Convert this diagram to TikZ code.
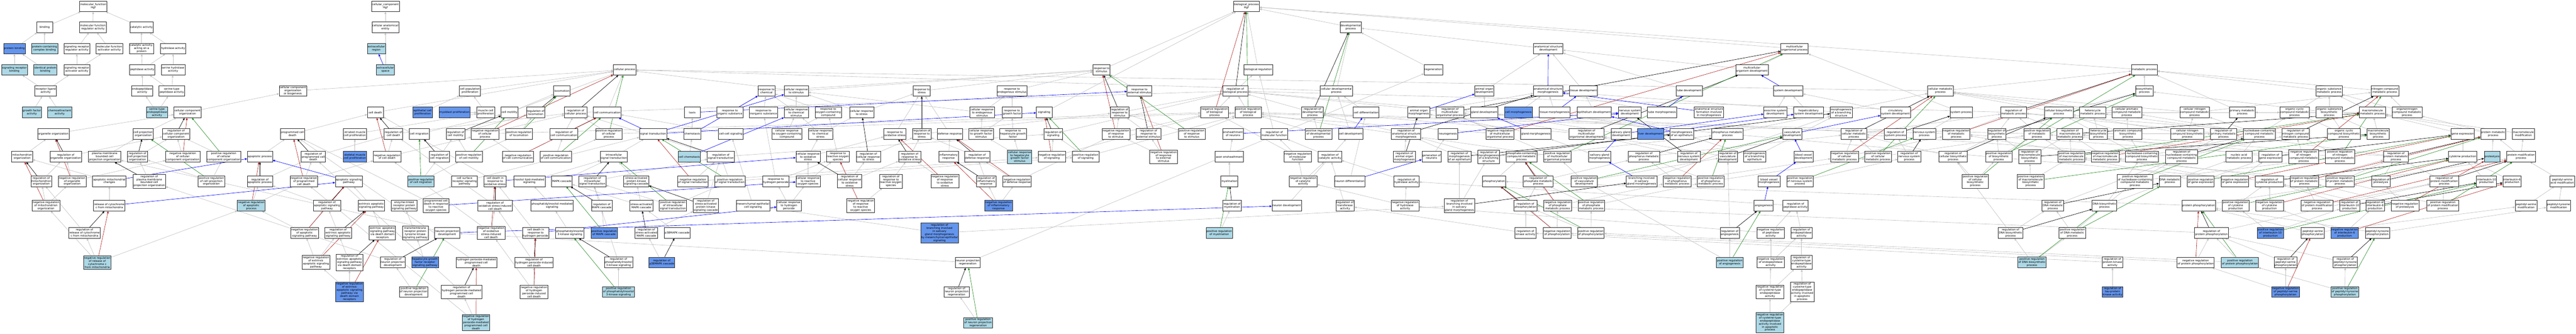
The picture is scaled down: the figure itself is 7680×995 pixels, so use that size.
\documentclass[tikz,border=0pt]{standalone}
\usepackage{fontspec}
\setmainfont{DejaVu Sans}
\usepackage{tikz}
\usetikzlibrary{arrows.meta}
\usetikzlibrary{backgrounds}
\definecolor{hitblue}{HTML}{ADD8E6}
\definecolor{queryblue}{HTML}{6495ED}
\definecolor{edgegray}{HTML}{C0C0C0}
\definecolor{negred}{HTML}{B22222}
\definecolor{posgreen}{HTML}{228B22}
\tikzstyle{term}=[draw=black!85, line width=1.4pt, fill=white, rectangle, align=center,
                  inner xsep=2.5pt, inner ysep=4pt, minimum width=67pt, minimum height=45pt,
                  font=\fontsize{11.5}{13}\selectfont]
\tikzstyle{hterm}=[term, fill=hitblue]
\tikzstyle{qterm}=[term, fill=queryblue]
\tikzstyle{link}=[line width=1.4pt, -{Triangle[length=9pt,width=8pt]}]
\tikzstyle{isa}=[link, edgegray]
\tikzstyle{reg}=[link, black]
\tikzstyle{negreg}=[link, negred]
\tikzstyle{posreg}=[link, posgreen]
\tikzstyle{partof}=[link, blue]

\begin{document}
\begin{tikzpicture}[x=0.05cm, y=-0.05cm]
        % molecular function
        \node[term]  (mf)      at (278,19)  {molecular\_function\\Hgf};
        \node[term]  (bind)    at (133,81)  {binding};
        \node[term]  (mfreg)   at (277,81)  {molecular function\\regulator activity};
        \node[term]  (cat)     at (422,81)  {catalytic activity};
        \node[qterm] (pbind)   at (43,145)  {protein binding};
        \node[hterm] (pcbind)  at (133,145) {protein-containing\\complex binding};
        \node[term]  (srra)    at (229,145) {signaling receptor\\regulator activity};
        \node[term]  (mfact)   at (326,145) {molecular function\\activator activity};
        \node[term]  (catprot) at (422,145) {catalytic activity,\\acting on a\\protein};
        \node[term]  (hydro)   at (516,145) {hydrolase activity};
        \node[hterm] (srbind)  at (43,208)  {signaling receptor\\binding};
        \node[hterm] (idbind)  at (135,208) {identical protein\\binding};
        \node[term]  (sraa)    at (229,208) {signaling receptor\\activator activity};
        \node[term]  (pept)    at (424,208) {peptidase activity};
        \node[term]  (serhyd)  at (516,208) {serine hydrolase\\activity};
        \node[term]  (rla)     at (136,271) {receptor ligand\\activity};
        \node[term]  (endopep) at (424,271) {endopeptidase\\activity};
        \node[term]  (serpep)  at (512,271) {serine-type\\peptidase activity};
        \node[hterm] (gfa)     at (95,335)  {growth factor\\activity};
        \node[hterm] (chemoa)  at (178,335) {chemoattractant\\activity};
        \node[hterm] (serendo) at (468,335) {serine-type\\endopeptidase\\activity};
        % organization
        \node[term]  (cco)      at (559,335) {cellular component\\organization};
        \node[term]  (orgorg)   at (159,399) {organelle organization};
        \node[term]  (cpo)      at (427,399) {cell projection\\organization};
        \node[term]  (rcco)     at (525,399) {regulation of\\cellular component\\organization};
        \node[term]  (mito)     at (66,467)  {mitochondrion\\organization};
        \node[term]  (rorgorg)  at (196,467) {regulation of\\organelle organization};
        \node[term]  (pmbcpo)   at (312,467) {plasma membrane\\bounded cell\\projection organization};
        \node[term]  (rcpo)     at (410,467) {regulation of\\cell projection\\organization};
        \node[term]  (nrcco)    at (545,467) {negative regulation\\of cellular\\component organization};
        \node[term]  (prcco)    at (667,467) {positive regulation\\of cellular\\component organization};
        \node[term]  (rmito)    at (123,540) {regulation of\\mitochondrion\\organization};
        \node[term]  (nrorgorg) at (215,540) {negative regulation\\of organelle\\organization};
        \node[term]  (amc)      at (326,540) {apoptotic mitochondrial\\changes};
        \node[term]  (rpmbcpo)  at (445,540) {regulation of\\plasma membrane\\bounded cell\\projection organization};
        \node[term]  (prcpo)    at (630,540) {positive regulation\\of cell projection\\organization};
        \node[term]  (nrmito)   at (137,613) {negative regulation\\of mitochondrion\\organization};
        \node[term]  (rcyt)     at (326,613) {release of cytochrome\\c from mitochondria};
        \node[term]  (rrcyt)    at (252,694) {regulation of\\release of cytochrome\\c from mitochondria};
        \node[hterm] (nrrcyt)   at (290,782) {negative regulation\\of release of\\cytochrome c\\from mitochondria};
        % cellular component, cell death
        \node[term]  (cc)      at (1149,19)  {cellular\_component\\Hgf};
        \node[term]  (cae)     at (1149,81)  {cellular anatomical\\entity};
        \node[hterm] (exreg)   at (1122,145) {extracellular\\region};
        \node[hterm] (exsp)    at (1149,208) {extracellular\\space};
        \node[term]  (ccob)    at (873,271)  {cellular component\\organization\\or biogenesis};
        \node[term]  (cdeath)  at (1119,335) {cell death};
        \node[qterm] (epiprol) at (1260,335) {epithelial cell\\proliferation};
        \node[term]  (pcd)     at (872,399)  {programmed cell\\death};
        \node[term]  (smcp)    at (1058,399) {striated muscle\\cell proliferation};
        \node[term]  (rcd)     at (1173,399) {regulation of\\cell death};
        \node[term]  (cmig)    at (1250,399) {cell migration};
        \node[term]  (apop)    at (775,467)  {apoptotic process};
        \node[term]  (rpcd)    at (934,467)  {regulation of\\programmed cell\\death};
        \node[qterm] (skmcp)   at (1058,467) {skeletal muscle\\cell proliferation};
        \node[term]  (nrcd)    at (1154,467) {negative regulation\\of cell death};
        \node[term]  (rcmig)   at (1310,467) {regulation of\\cell migration};
        \node[term]  (rapop)   at (775,540)  {regulation of\\apoptotic process};
        \node[term]  (nrpcd)   at (906,540)  {negative regulation\\of programmed\\cell death};
        \node[term]  (asp)     at (1040,540) {apoptotic signaling\\pathway};
        \node[hterm] (prcmig)  at (1255,540) {positive regulation\\of cell migration};
        \node[hterm] (nrapop)  at (749,613)  {negative regulation\\of apoptotic\\process};
        \node[term]  (rasp)    at (975,613)  {regulation of\\apoptotic signaling\\pathway};
        \node[term]  (easp)    at (1107,613) {extrinsic apoptotic\\signaling pathway};
        \node[term]  (elrp)    at (1205,613) {enzyme-linked\\receptor protein\\signaling pathway};
        \node[term]  (pcdros)  at (1300,613) {programmed cell\\death in response\\to reactive\\oxygen species};
        \node[term]  (nrasp)   at (908,694)  {negative regulation\\of apoptotic\\signaling pathway};
        \node[term]  (reasp)   at (1008,694) {regulation of\\extrinsic apoptotic\\signaling pathway};
        \node[term]  (eaddr)   at (1140,694) {extrinsic apoptotic\\signaling pathway\\via death domain\\receptors};
        \node[term]  (rtkp)    at (1238,694) {transmembrane\\receptor protein\\tyrosine kinase\\signaling pathway};
        \node[term]  (nreasp)  at (942,782)  {negative regulation\\of extrinsic\\apoptotic signaling\\pathway};
        \node[term]  (readdr)  at (1042,782) {regulation of\\extrinsic apoptotic\\signaling pathway\\via death domain\\receptors};
        \node[term]  (rnpd)    at (1171,782) {regulation of\\neuron projection\\development};
        \node[qterm] (hgfrsp)  at (1267,782) {hepatocyte growth\\factor receptor\\signaling pathway};
        \node[qterm] (nreaddr) at (1042,870) {negative regulation\\of extrinsic\\apoptotic signaling\\pathway via\\death domain\\receptors};
        \node[term]  (prnpd)   at (1233,870) {positive regulation\\of neuron projection\\development};
        % cellular process, signaling
        \node[term]  (cellproc)   at (1862,208) {cellular process};
        \node[term]  (cpp)        at (1401,271) {cell population\\proliferation};
        \node[term]  (loco)       at (1675,271) {locomotion};
        \node[qterm] (myoprol)    at (1355,335) {myoblast proliferation};
        \node[term]  (mcp)        at (1448,335) {muscle cell\\proliferation};
        \node[term]  (cmot)       at (1519,335) {cell motility};
        \node[term]  (rloco)      at (1597,335) {regulation of\\locomotion};
        \node[term]  (rcellproc)  at (1716,335) {regulation of\\cellular process};
        \node[term]  (ccomm)      at (1810,335) {cell communication};
        \node[term]  (rcmot)      at (1358,399) {regulation of\\cell motility};
        \node[term]  (nrcellproc) at (1446,399) {negative regulation\\of cellular\\process};
        \node[term]  (prloco)     at (1547,399) {positive regulation\\of locomotion};
        \node[term]  (rccomm)     at (1681,399) {regulation of\\cell communication};
        \node[term]  (prcellproc) at (1815,399) {positive regulation\\of cellular\\process};
        \node[term]  (st)         at (1947,399) {signal transduction};
        \node[term]  (prcmot)     at (1398,467) {positive regulation\\of cell motility};
        \node[term]  (nrccomm)    at (1544,467) {negative regulation\\of cell communication};
        \node[term]  (prccomm)    at (1657,467) {positive regulation\\of cell communication};
        \node[term]  (ist)        at (1830,467) {intracellular\\signal transduction};
        \node[term]  (cscrsp)     at (1385,540) {cell surface\\receptor signaling\\pathway};
        \node[term]  (cdros)      at (1476,540) {cell death in\\response to\\oxidative stress};
        \node[term]  (inos)       at (1578,540) {inositol lipid-mediated\\signaling};
        \node[term]  (mapk)       at (1675,540) {MAPK cascade};
        \node[term]  (rist)       at (1766,540) {regulation of\\intracellular\\signal transduction};
        \node[term]  (sapk)       at (1897,540) {stress-activated\\protein kinase\\signaling cascade};
        \node[term]  (rosicd)     at (1476,613) {regulation of\\oxidative stress-induced\\cell death};
        \node[term]  (pims)       at (1646,613) {phosphatidylinositol-mediated\\signaling};
        \node[term]  (rmapk)      at (1794,613) {regulation of\\MAPK cascade};
        \node[term]  (samapk)     at (1912,613) {stress-activated\\MAPK cascade};
        \node[term]  (npd)        at (1333,694) {neuron projection\\development};
        \node[term]  (nrosicd)    at (1464,694) {negative regulation\\of oxidative\\stress-induced\\cell death};
        \node[term]  (cdhp)       at (1597,694) {cell death in\\response to\\hydrogen peroxide};
        \node[term]  (pi3k)       at (1699,694) {phosphatidylinositol\\3-kinase signaling};
        \node[qterm] (prmapk)     at (1801,694) {positive regulation\\of MAPK cascade};
        \node[term]  (rsamapk)    at (1927,694) {regulation of\\stress-activated\\MAPK cascade};
        \node[term]  (hpmpcd)     at (1420,782) {hydrogen peroxide-mediated\\programmed cell\\death};
        \node[term]  (rhpicd)     at (1592,782) {regulation of\\hydrogen peroxide-induced\\cell death};
        \node[term]  (rpi3k)      at (1844,782) {regulation of\\phosphatidylinositol\\3-kinase signaling};
        \node[term]  (rhpmpcd)    at (1376,870) {regulation of\\hydrogen peroxide-mediated\\programmed cell\\death};
        \node[term]  (nrhpicd)    at (1592,870) {negative regulation\\of hydrogen\\peroxide-induced\\cell death};
        \node[hterm] (prpi3k)     at (1844,870) {positive regulation\\of phosphatidylinositol\\3-kinase signaling};
        \node[hterm] (nrhpmpcd)   at (1419,961) {negative regulation\\of hydrogen\\peroxide-mediated\\programmed cell\\death};
        % response to stimulus
        \node[term]  (rchem)      at (2285,271) {response to\\chemical};
        \node[term]  (crstim)     at (2374,271) {cellular response\\to stimulus};
        \node[term]  (taxis)      at (2064,335) {taxis};
        \node[term]  (rorg)       at (2176,335) {response to\\organic substance};
        \node[term]  (rinorg)     at (2276,335) {response to\\inorganic substance};
        \node[term]  (crchem)     at (2374,335) {cellular response\\to chemical\\stimulus};
        \node[term]  (roc)        at (2469,335) {response to\\oxygen-containing\\compound};
        \node[term]  (crstress)   at (2569,335) {cellular response\\to stress};
        \node[term]  (chemotaxis) at (2064,399) {chemotaxis};
        \node[term]  (ccsig)      at (2179,399) {cell-cell signaling};
        \node[term]  (croc)       at (2346,399) {cellular response\\to oxygen-containing\\compound};
        \node[term]  (crcs)       at (2446,399) {cellular response\\to chemical\\stress};
        \node[hterm] (cchemo)     at (2055,467) {cell chemotaxis};
        \node[term]  (rst)        at (2149,467) {regulation of\\signal transduction};
        \node[term]  (cros)       at (2409,467) {cellular response\\to oxidative\\stress};
        \node[term]  (rros)       at (2498,467) {response to\\reactive oxygen\\species};
        \node[term]  (rcrstress)  at (2589,467) {regulation of\\cellular response\\to stress};
        \node[term]  (nrst)       at (2066,540) {negative regulation\\of signal transduction};
        \node[term]  (prst)       at (2176,540) {positive regulation\\of signal transduction};
        \node[term]  (rhp)        at (2313,540) {response to\\hydrogen peroxide};
        \node[term]  (crros)      at (2409,540) {cellular response\\to reactive\\oxygen species};
        \node[term]  (rcros)      at (2533,540) {regulation of\\cellular response\\to oxidative\\stress};
        \node[term]  (prist)      at (2006,613) {positive regulation\\of intracellular\\signal transduction};
        \node[term]  (rsapk)      at (2104,613) {regulation of\\stress-activated\\protein kinase\\signaling cascade};
        \node[term]  (mesig)      at (2245,613) {mesenchymal-epithelial\\cell signaling};
        \node[term]  (crhp)       at (2352,613) {cellular response\\to hydrogen\\peroxide};
        \node[term]  (nrrros)     at (2566,613) {negative regulation\\of response\\to reactive\\oxygen species};
        \node[term]  (p38)        at (2019,694) {p38MAPK cascade};
        \node[qterm] (rp38)       at (1973,782) {regulation of\\p38MAPK cascade};
        \node[term]  (rstress)    at (2748,271) {response to\\stress};
        \node[term]  (rendo)      at (3017,271) {response to\\endogenous stimulus};
        \node[term]  (crendo)     at (2928,335) {cellular response\\to endogenous\\stimulus};
        \node[term]  (rgf)        at (3017,335) {response to\\growth factor};
        \node[term]  (signaling)  at (3113,335) {signaling};
        \node[term]  (rox)        at (2668,399) {response to\\oxidative stress};
        \node[term]  (rrstress)   at (2748,399) {regulation of\\response to\\stress};
        \node[term]  (defr)       at (2832,399) {defense response};
        \node[term]  (crgf)       at (2925,399) {cellular response\\to growth factor\\stimulus};
        \node[term]  (rhgf)       at (3020,399) {response to\\hepatocyte growth\\factor};
        \node[term]  (rsig)       at (3140,399) {regulation of\\signaling};
        \node[term]  (rrox)       at (2712,467) {regulation of\\response to\\oxidative stress};
        \node[term]  (infl)       at (2828,467) {inflammatory\\response};
        \node[term]  (rdef)       at (2913,467) {regulation of\\defense response};
        \node[hterm] (crhgf)      at (3040,467) {cellular response\\to hepatocyte\\growth factor\\stimulus};
        \node[term]  (nrsig)      at (3136,467) {negative regulation\\of signaling};
        \node[term]  (prsig)      at (3237,467) {positive regulation\\of signaling};
        \node[term]  (rrros)      at (2656,540) {regulation of\\response to\\reactive oxygen\\species};
        \node[term]  (nrrox)      at (2817,540) {negative regulation\\of response\\to oxidative\\stress};
        \node[term]  (rinfl)      at (2940,540) {regulation of\\inflammatory\\response};
        \node[term]  (nrdef)      at (3032,540) {negative regulation\\of defense response};
        \node[qterm] (nrinfl)     at (2977,613) {negative regulation\\of inflammatory\\response};
        \node[qterm] (rbimsg)     at (2801,694) {regulation of\\branching involved\\in salivary\\gland morphogenesis\\by mesenchymal-epithelial\\signaling};
        \node[term]  (npr)        at (2885,782) {neuron projection\\regeneration};
        \node[term]  (rnpr)       at (2852,870) {regulation of\\neuron projection\\regeneration};
        \node[hterm] (prnpr)      at (2916,962) {positive regulation\\of neuron projection\\regeneration};
        % biological process
        \node[term]  (bp)        at (3716,19)  {biological\_process\\Hgf};
        \node[term]  (rstim)     at (3284,208) {response to\\stimulus};
        \node[term]  (breg)      at (3751,208) {biological regulation};
        \node[term]  (rexstim)   at (3397,271) {response to\\external stimulus};
        \node[term]  (rbp)       at (3683,271) {regulation of\\biological process};
        \node[term]  (rrstim)    at (3338,335) {regulation of\\response to\\stimulus};
        \node[term]  (nrbp)      at (3621,335) {negative regulation\\of biological\\process};
        \node[term]  (prbp)      at (3721,335) {positive regulation\\of biological\\process};
        \node[term]  (nrrstim)   at (3327,399) {negative regulation\\of response\\to stimulus};
        \node[term]  (rrexstim)  at (3424,399) {regulation of\\response to\\external stimulus};
        \node[term]  (prrstim)   at (3553,399) {positive regulation\\of response\\to stimulus};
        \node[term]  (ensh)      at (3676,399) {ensheathment\\of neurons};
        \node[term]  (rmf)       at (3799,399) {regulation of\\molecular function};
        \node[term]  (nrrexstim) at (3469,467) {negative regulation\\of response\\to external\\stimulus};
        \node[term]  (axon)      at (3665,467) {axon ensheathment};
        \node[term]  (nrmf)      at (3869,467) {negative regulation\\of molecular\\function};
        \node[term]  (myel)      at (3665,540) {myelination};
        \node[term]  (rmyel)     at (3673,613) {regulation of\\myelination};
        \node[term]  (ndev)      at (3836,613) {neuron development};
        \node[hterm] (prmyel)    at (3635,694) {positive regulation\\of myelination};
        % development
        \node[term]  (dev)      at (4027,81)  {developmental\\process};
        \node[term]  (regen)    at (4273,208) {regeneration};
        \node[term]  (cdp)      at (3984,271) {cellular developmental\\process};
        \node[term]  (aod)      at (4425,271) {animal organ\\development};
        \node[term]  (rdp)      at (3913,335) {regulation of\\developmental\\process};
        \node[term]  (cdiff)    at (4073,335) {cell differentiation};
        \node[term]  (aom)      at (4230,335) {animal organ\\morphogenesis};
        \node[term]  (rmop)     at (4323,335) {regulation of\\multicellular\\organismal process};
        \node[term]  (glanddev) at (4425,335) {gland development};
        \node[term]  (prdp)     at (3931,399) {positive regulation\\of developmental\\process};
        \node[term]  (cdev)     at (4027,399) {cell development};
        \node[term]  (rasm)     at (4192,399) {regulation of\\anatomical structure\\morphogenesis};
        \node[term]  (neurog)   at (4317,399) {neurogenesis};
        \node[term]  (nrmop)    at (4472,399) {negative regulation\\of multicellular\\organismal process};
        \node[term]  (rca)      at (3965,467) {regulation of\\catalytic activity};
        \node[term]  (raom)     at (4187,467) {regulation of\\animal organ\\morphogenesis};
        \node[term]  (genn)     at (4268,467) {generation of\\neurons};
        \node[term]  (rmepi)    at (4351,467) {regulation of\\morphogenesis\\of an epithelium};
        \node[term]  (rmbs)     at (4438,467) {regulation of\\morphogenesis\\of a branching\\structure};
        \node[term]  (nrca)     at (3885,540) {negative regulation\\of catalytic\\activity};
        \node[term]  (ndiff)    at (4024,540) {neuron differentiation};
        \node[term]  (rhyd)     at (4193,540) {regulation of\\hydrolase activity};
        \node[term]  (phos)     at (4454,540) {phosphorylation};
        \node[term]  (rtrans)   at (4010,613) {regulation of\\transferase\\activity};
        \node[term]  (nrhyd)    at (4189,613) {negative regulation\\of hydrolase\\activity};
        \node[term]  (rbsg)     at (4351,613) {regulation of\\branching involved\\in salivary\\gland morphogenesis};
        \node[term]  (asd)        at (4616,145) {anatomical structure\\development};
        \node[term]  (asm)        at (4615,271) {anatomical structure\\morphogenesis};
        \node[term]  (tissdev)    at (4721,271) {tissue development};
        \node[term]  (tubedev)    at (5036,271) {tube development};
        \node[qterm] (cmorph)     at (4527,335) {cell morphogenesis};
        \node[term]  (tissmorph)  at (4635,335) {tissue morphogenesis};
        \node[term]  (epidev)     at (4753,335) {epithelium development};
        \node[term]  (nsdev)      at (4859,335) {nervous system\\development};
        \node[term]  (tubemorph)  at (4955,335) {tube morphogenesis};
        \node[term]  (asfim)      at (5095,335) {anatomical structure\\formation involved\\in morphogenesis};
        \node[term]  (glandmorph) at (4579,399) {gland morphogenesis};
        \node[term]  (rmod)       at (4730,399) {regulation of\\multicellular\\organismal development};
        \node[term]  (sgdev)      at (4833,399) {salivary gland\\development};
        \node[qterm] (liver)      at (4921,399) {liver development};
        \node[term]  (morphepi)   at (5014,399) {morphogenesis\\of an epithelium};
        \node[term]  (phosmp)     at (5150,399) {phosphorus metabolic\\process};
        \node[term]  (pccmp)      at (4536,467) {phosphate-containing\\compound metabolic\\process};
        \node[term]  (prmop)      at (4643,467) {positive regulation\\of multicellular\\organismal process};
        \node[term]  (sgmorph)    at (4769,467) {salivary gland\\morphogenesis};
        \node[term]  (rpmp)       at (4901,467) {regulation of\\phosphorus metabolic\\process};
        \node[term]  (rnsd)       at (5035,467) {regulation of\\nervous system\\development};
        \node[term]  (rphmp)      at (4586,540) {regulation of\\phosphate metabolic\\process};
        \node[term]  (prvd)       at (4723,540) {positive regulation\\of vasculature\\development};
        \node[term]  (bsg)        at (4894,540) {branching involved\\in salivary\\gland morphogenesis};
        \node[term]  (nrpmp)      at (5000,540) {negative regulation\\of phosphorus\\metabolic process};
        \node[term]  (prpmp)      at (5100,540) {positive regulation\\of phosphorus\\metabolic process};
        \node[term]  (rphos)      at (4548,613) {regulation of\\phosphorylation};
        \node[term]  (nrphmp)     at (4644,613) {negative regulation\\of phosphate\\metabolic process};
        \node[term]  (prphmp)     at (4744,613) {positive regulation\\of phosphate\\metabolic process};
        \node[term]  (rka)        at (4548,694) {regulation of\\kinase activity};
        \node[term]  (nrphos)     at (4642,694) {negative regulation\\of phosphorylation};
        \node[term]  (prphos)     at (4743,694) {positive regulation\\of phosphorylation};
        % multicellular, metabolic
        \node[term]  (mop)      at (5350,145) {multicellular\\organismal process};
        \node[term]  (mod)      at (5223,208) {multicellular\\organism development};
        \node[term]  (sysdev)   at (5331,271) {system development};
        \node[term]  (cmp)      at (5785,271) {cellular metabolic\\process};
        \node[term]  (exodev)   at (5293,335) {exocrine system\\development};
        \node[term]  (hepdev)   at (5392,335) {hepaticobiliary\\system development};
        \node[term]  (mbs)      at (5489,335) {morphogenesis\\of a branching\\structure};
        \node[term]  (circdev)  at (5651,335) {circulatory\\system development};
        \node[term]  (sysproc)  at (5847,335) {system process};
        \node[term]  (rmetab)   at (6003,335) {regulation of\\metabolic process};
        \node[term]  (vasc)     at (5343,399) {vasculature\\development};
        \node[term]  (rcmp)     at (5527,399) {regulation of\\cellular metabolic\\process};
        \node[term]  (rsysp)    at (5651,399) {regulation of\\system process};
        \node[term]  (nsp)      at (5737,399) {nervous system\\process};
        \node[term]  (nrmetab)  at (5832,399) {negative regulation\\of metabolic\\process};
        \node[term]  (rbiosyn)  at (5953,399) {regulation of\\biosynthetic\\process};
        \node[term]  (rvd)      at (5151,467) {regulation of\\vasculature\\development};
        \node[term]  (mbe)      at (5231,467) {morphogenesis\\of a branching\\epithelium};
        \node[term]  (bvd)      at (5377,467) {blood vessel\\development};
        \node[term]  (nrcmp)    at (5499,467) {negative regulation\\of cellular\\metabolic process};
        \node[term]  (prcmp)    at (5599,467) {positive regulation\\of cellular\\metabolic process};
        \node[term]  (rnsp)     at (5692,467) {regulation of\\nervous system\\process};
        \node[term]  (rcbp)     at (5823,467) {regulation of\\cellular biosynthetic\\process};
        \node[term]  (prbiosyn) at (5959,467) {positive regulation\\of biosynthetic\\process};
        \node[term]  (bvm)      at (5274,540) {blood vessel\\morphogenesis};
        \node[term]  (prnsp)    at (5366,540) {positive regulation\\of nervous system\\process};
        \node[term]  (prcbp)    at (5889,540) {positive regulation\\of cellular\\biosynthetic\\process};
        \node[term]  (angio)    at (5258,613) {angiogenesis};
        \node[term]  (rpa)      at (5353,613) {regulation of\\peptidase activity};
        \node[term]  (rangio)   at (5157,694) {regulation of\\angiogenesis};
        \node[term]  (nrpa)     at (5279,694) {negative regulation\\of peptidase\\activity};
        \node[term]  (rendoa)   at (5371,694) {regulation of\\endopeptidase\\activity};
        \node[term]  (rdnabs)   at (5994,694) {regulation of\\DNA biosynthetic\\process};
        \node[hterm] (prangio)  at (5157,782) {positive regulation\\of angiogenesis};
        \node[term]  (nrendoa)  at (5279,782) {negative regulation\\of endopeptidase\\activity};
        \node[term]  (rcysa)    at (5371,782) {regulation of\\cysteine-type\\endopeptidase\\activity};
        \node[term]  (nrcysa)   at (5277,870) {negative regulation\\of cysteine-type\\endopeptidase\\activity};
        \node[term]  (rcysaap)  at (5373,870) {regulation of\\cysteine-type\\endopeptidase\\activity involved\\in apoptotic\\process};
        \node[hterm] (nrcysaap) at (5277,961) {negative regulation\\of cysteine-type\\endopeptidase\\activity involved\\in apoptotic\\process};
        \node[term]  (metab)   at (6393,208) {metabolic process};
        \node[term]  (biosyn)  at (6393,271) {biosynthetic\\process};
        \node[term]  (cbp)     at (6138,335) {cellular biosynthetic\\process};
        \node[term]  (hetmp)   at (6239,335) {heterocycle\\metabolic process};
        \node[term]  (camp)    at (6341,335) {cellular aromatic\\compound metabolic\\process};
        \node[term]  (cnmp)    at (6543,335) {cellular nitrogen\\compound metabolic\\process};
        \node[term]  (primp)   at (6685,335) {primary metabolic\\process};
        \node[term]  (orgcyc)  at (6841,335) {organic cyclic\\compound metabolic\\process};
        \node[term]  (prmetab) at (6073,399) {positive regulation\\of metabolic\\process};
        \node[term]  (rmmp)    at (6171,399) {regulation of\\macromolecule\\metabolic process};
        \node[term]  (hetbs)   at (6256,399) {heterocycle\\biosynthetic\\process};
        \node[term]  (arbs)    at (6344,399) {aromatic compound\\biosynthetic\\process};
        \node[term]  (cnbs)    at (6521,399) {cellular nitrogen\\compound biosynthetic\\process};
        \node[term]  (rprimp)  at (6629,399) {regulation of\\primary metabolic\\process};
        \node[term]  (nbcmp)   at (6736,399) {nucleobase-containing\\compound metabolic\\process};
        \node[term]  (rncmp)   at (6844,399) {regulation of\\nitrogen compound\\metabolic process};
        \node[term]  (rmacbs)  at (6051,467) {regulation of\\macromolecule\\biosynthetic\\process};
        \node[term]  (prmmp)   at (6175,467) {positive regulation\\of macromolecule\\metabolic process};
        \node[term]  (nrmmp)   at (6276,467) {negative regulation\\of macromolecule\\metabolic process};
        \node[term]  (nbcbs)   at (6386,467) {nucleobase-containing\\compound biosynthetic\\process};
        \node[term]  (rnbcmp)  at (6504,467) {regulation of\\nucleobase-containing\\compound metabolic\\process};
        \node[term]  (nacmp)   at (6675,467) {nucleic acid\\metabolic process};
        \node[term]  (rge)     at (6769,467) {regulation of\\gene expression};
        \node[term]  (nrncmp)  at (6868,467) {negative regulation\\of nitrogen\\compound metabolic\\process};
        \node[term]  (prmacbs) at (6054,540) {positive regulation\\of macromolecule\\biosynthetic\\process};
        \node[term]  (prnbcmp) at (6365,540) {positive regulation\\of nucleobase-containing\\compound metabolic\\process};
        \node[term]  (dnamp)   at (6469,540) {DNA metabolic\\process};
        \node[term]  (prge)    at (6561,540) {positive regulation\\of gene expression};
        \node[term]  (nrge)    at (6663,540) {negative regulation\\of gene expression};
        \node[term]  (rcp)     at (6766,540) {regulation of\\cytokine production};
        \node[term]  (nrpmp2)  at (6870,540) {negative regulation\\of protein metabolic\\process};
        \node[term]  (rdnamp)  at (6120,613) {regulation of\\DNA metabolic\\process};
        \node[term]  (dnabs)   at (6274,613) {DNA biosynthetic\\process};
        \node[term]  (pphos)   at (6555,613) {protein phosphorylation};
        \node[term]  (prcp)    at (6665,613) {positive regulation\\of cytokine\\production};
        \node[term]  (nrcp)    at (6766,613) {negative regulation\\of cytokine\\production};
        \node[term]  (prdnamp) at (6178,694) {positive regulation\\of DNA metabolic\\process};
        \node[term]  (rpp)     at (6593,694) {regulation of\\protein phosphorylation};
        \node[qterm] (pril10)  at (6769,694) {positive regulation\\of interleukin-10\\production};
        \node[hterm] (prdnabs) at (6058,782) {positive regulation\\of DNA biosynthetic\\process};
        \node[term]  (rpka)    at (6298,782) {regulation of\\protein kinase\\activity};
        \node[term]  (nrpp)    at (6546,782) {negative regulation\\of protein phosphorylation};
        \node[hterm] (prpp)    at (6678,782) {positive regulation\\of protein phosphorylation};
        \node[term]  (rpsp)    at (6814,782) {regulation of\\peptidyl-serine\\phosphorylation};
        \node[qterm] (rtau)    at (6298,870) {regulation of\\tau-protein\\kinase activity};
        \node[qterm] (nrpsp)   at (6814,870) {negative regulation\\of peptidyl-serine\\phosphorylation};
        % protein metabolism
        \node[term]  (osmp)    at (6944,271) {organic substance\\metabolic process};
        \node[term]  (ncmp)    at (7110,271) {nitrogen compound\\metabolic process};
        \node[term]  (osbs)    at (6944,335) {organic substance\\biosynthetic\\process};
        \node[term]  (macmp)   at (7073,335) {macromolecule\\metabolic process};
        \node[term]  (onmp)    at (7176,335) {organonitrogen\\compound metabolic\\process};
        \node[term]  (ocbs)    at (6988,399) {organic cyclic\\compound biosynthetic\\process};
        \node[term]  (macbs)   at (7090,399) {macromolecule\\biosynthetic\\process};
        \node[term]  (ge)      at (7342,399) {gene expression};
        \node[term]  (pmp)     at (7433,399) {protein metabolic\\process};
        \node[term]  (macmod)  at (7523,399) {macromolecule\\modification};
        \node[term]  (prncmp)  at (6976,467) {positive regulation\\of nitrogen\\compound metabolic\\process};
        \node[term]  (rpmp2)   at (7143,467) {regulation of\\protein metabolic\\process};
        \node[term]  (cytprod) at (7342,467) {cytokine production};
        \node[hterm] (proteo)  at (7430,467) {proteolysis};
        \node[term]  (pmod)    at (7516,467) {protein modification\\process};
        \node[term]  (prpmp2)  at (6976,540) {positive regulation\\of protein metabolic\\process};
        \node[term]  (rprot)   at (7098,540) {regulation of\\proteolysis};
        \node[term]  (rpmod)   at (7287,540) {regulation of\\protein modification\\process};
        \node[term]  (il10)    at (7413,540) {interleukin-10\\production};
        \node[term]  (il6)     at (7489,540) {interleukin-6\\production};
        \node[term]  (paam)    at (7639,540) {peptidyl-amino\\acid modification};
        \node[term]  (nrpmod)  at (6908,613) {negative regulation\\of protein modification\\process};
        \node[term]  (ril10)   at (7005,613) {regulation of\\interleukin-10\\production};
        \node[term]  (ril6)    at (7081,613) {regulation of\\interleukin-6\\production};
        \node[term]  (nrprot)  at (7170,613) {negative regulation\\of proteolysis};
        \node[term]  (prpmod)  at (7283,613) {positive regulation\\of protein modification\\process};
        \node[term]  (psm)     at (7531,613) {peptidyl-serine\\modification};
        \node[term]  (ptm)     at (7628,613) {peptidyl-tyrosine\\modification};
        \node[term]  (psp)     at (6895,694) {peptidyl-serine\\phosphorylation};
        \node[qterm] (nril6)   at (6990,694) {negative regulation\\of interleukin-6\\production};
        \node[term]  (ptp)     at (7088,694) {peptidyl-tyrosine\\phosphorylation};
        \node[term]  (rptp)    at (6992,782) {regulation of\\peptidyl-tyrosine\\phosphorylation};
        \node[hterm] (prptp)   at (6991,870) {positive regulation\\of peptidyl-tyrosine\\phosphorylation};

        \begin{pgfonlayer}{background}
        \fill[white] (0,0) rectangle (7680,995);
        % is_a
        \foreach \a/\b in {bind/mf, mfreg/mf, cat/mf, pbind/bind, pcbind/bind, srra/mfreg, mfact/mfreg, catprot/cat, hydro/cat,
            srbind/pbind, idbind/pbind, sraa/srra, sraa/mfact, pept/catprot, pept/hydro, serhyd/hydro, rla/srbind, rla/sraa,
            endopep/pept, serpep/pept, serpep/serhyd, gfa/rla, chemoa/rla, serendo/endopep, serendo/serpep, cco/ccob,
            orgorg/cco, cpo/cco, mito/orgorg, rorgorg/rcco, pmbcpo/cpo, rcpo/rcco, nrcco/rcco, prcco/rcco, rmito/rorgorg,
            nrorgorg/rorgorg, nrorgorg/nrcco, amc/mito, rpmbcpo/rcpo, prcpo/rcpo, prcpo/prcco, nrmito/rmito, nrmito/nrorgorg,
            rcyt/amc, rrcyt/rmito, nrrcyt/rrcyt, nrrcyt/nrmito, nrrcyt/nrapop, rnpd/rpmbcpo, npd/pmbcpo,
            cae/cc, exsp/cae, ccob/cellproc, cdeath/cellproc, pcd/cdeath, nrcd/rcd, apop/pcd, rpcd/rcd, rapop/rpcd,
            nrpcd/rpcd, nrpcd/nrcd, nrapop/rapop, nrapop/nrpcd, rasp/rapop, nrasp/rasp, nrasp/nrapop, easp/asp, reasp/rasp,
            eaddr/easp, nreasp/reasp, nreasp/nrasp, readdr/reasp, nreaddr/readdr, nreaddr/nreasp, smcp/mcp, skmcp/smcp,
            cmig/cmot, epiprol/cpp, elrp/cscrsp, rtkp/elrp, hgfrsp/rtkp, prnpd/rnpd, pcdros/pcd, rcmig/rcmot, prcmig/rcmig,
            prcmig/prcmot, rcd/rcellproc, nrcd/nrcellproc,
            cpp/cellproc, myoprol/mcp, mcp/cpp, cmot/loco, cmot/cellproc, rcellproc/rbp, ccomm/cellproc, rcmot/rloco,
            nrcellproc/rcellproc, nrcellproc/nrbp, prloco/rloco, rccomm/rcellproc, prcellproc/rcellproc, prcellproc/prbp,
            prcmot/rcmot, prcmot/prloco, nrccomm/rccomm, nrccomm/nrcellproc, prccomm/rccomm, prccomm/prcellproc, ist/st,
            cscrsp/st, cdros/cdeath, inos/ist, mapk/ist, rist/rst, sapk/ist, rosicd/rcd, pims/inos, rmapk/rist, samapk/mapk,
            samapk/sapk, nrosicd/rosicd, nrosicd/nrcd, cdhp/cdros, pi3k/pims, prmapk/rmapk, rsamapk/rsapk, hpmpcd/pcd,
            rhpicd/rosicd, rpi3k/rist, rhpmpcd/rpcd, nrhpicd/rhpicd, nrhpicd/nrosicd, prpi3k/rpi3k, nrhpmpcd/rhpmpcd,
            nrhpmpcd/nrpcd}
            \draw[isa] (\a) -- (\b);
        \foreach \a/\b in {rchem/rstim, crstim/rstim, crstim/cellproc, rorg/rchem, rinorg/rchem, crchem/rchem, crchem/crstim,
            roc/rchem, crstress/crstim, crstress/rstress, chemotaxis/taxis, ccsig/ccomm, croc/roc, croc/crchem, crcs/crchem,
            crcs/crstress, cchemo/chemotaxis, rst/rsig, rst/rcellproc, cros/crcs, cros/rox, rros/roc, rcrstress/rrstress,
            nrst/rst, nrst/nrsig, prst/rst, prst/prsig, rhp/rros, rhp/rinorg, crros/cros, crros/rros, rcros/rcrstress,
            rcros/rrox, prist/rist, prist/prst, rsapk/rst, mesig/ccsig, crhp/rhp, crhp/crros, nrrros/rrros, p38/samapk,
            rp38/rsamapk,
            rstress/rstim, rendo/rstim, crendo/rendo, crendo/crstim, rgf/rendo, signaling/bp, rox/rstress, rrstress/rrstim,
            defr/rstress, crgf/rgf, crgf/crendo, rhgf/rgf, rsig/rbp, rrox/rrstress, infl/defr, rdef/rrstress, crhgf/crgf,
            crhgf/rhgf, nrsig/rsig, nrsig/nrbp, prsig/rsig, prsig/prbp, rrros/rrox, nrrox/rrox, rinfl/rdef, nrdef/rdef,
            nrdef/nrrstim, nrinfl/rinfl, nrinfl/nrdef, rbimsg/rbsg, rbimsg/mesig, npr/regen, npr/npd, prnpr/rnpr,
            rstim/bp, breg/bp, rexstim/rstim, rbp/breg, rrstim/rbp, nrbp/rbp, prbp/rbp, nrrstim/rrstim, nrrstim/nrbp,
            rrexstim/rrstim, prrstim/rrstim, prrstim/prbp, rmf/breg, axon/ensh, myel/axon, nrrexstim/rrexstim,
            nrrexstim/nrrstim, nrmf/rmf, nrmf/nrbp, ndev/cdev, prmyel/rmyel,
            dev/bp, regen/dev, cdp/dev, cdp/cellproc, aod/asd, rdp/rbp, cdiff/cdp, aom/asm, rmop/rbp, glanddev/aod,
            prdp/rdp, prdp/prbp, cdev/cdp, rasm/rdp, genn/neurog, nrmop/rmop, nrmop/nrbp, rca/rmf, raom/rasm, rmepi/rasm,
            rmbs/rasm, nrca/rca, nrca/nrmf, ndiff/cdiff, rhyd/rca, rtrans/rca, nrhyd/rhyd, nrhyd/nrca, rbsg/rmbs,
            rbsg/rmepi, phos/pccmp}
            \draw[isa] (\a) -- (\b);
        \foreach \a/\b in {asd/dev, tissdev/asd, tubedev/asd, cmorph/asm, tissmorph/asm, epidev/tissdev, tubemorph/asm,
            glandmorph/aom, rmod/rmop, rmod/rdp, sgdev/glanddev, morphepi/tissmorph, phosmp/cmp, pccmp/phosmp, prmop/rmop,
            prmop/prbp, sgmorph/glandmorph, rpmp/rcmp, rnsd/rmod, rphmp/rpmp, prvd/rvd, prvd/prmop, bsg/mbs, nrpmp/rpmp,
            nrpmp/nrcmp, prpmp/rpmp, prpmp/prcmp, rphos/rphmp, nrphmp/rphmp, nrphmp/nrpmp, prphmp/rphmp, prphmp/prpmp,
            rka/rphos, rka/rtrans, nrphos/rphos, nrphos/nrphmp, prphos/rphos, prphos/prphmp,
            mop/bp, mod/mop, mod/asd, cmp/cellproc, cmp/metab, exodev/sysdev, hepdev/sysdev, mbs/asm, circdev/sysdev,
            sysproc/mop, rmetab/rbp, rcmp/rmetab, rsysp/rmop, nsp/sysproc, nrmetab/rmetab, nrmetab/nrbp, rbiosyn/rmetab,
            rvd/rmod, mbe/mbs, mbe/morphepi, nrcmp/rcmp, nrcmp/nrmetab, prcmp/rcmp, prcmp/prmetab, rnsp/rsysp, rcbp/rcmp,
            rcbp/rbiosyn, prbiosyn/rbiosyn, prbiosyn/prmetab, prnsp/rnsp, prcbp/rcbp, prcbp/prbiosyn, rpa/rhyd,
            rangio/rvd, nrpa/rpa, nrpa/nrhyd, rendoa/rpa, rdnabs/rdnamp, rdnabs/rcbp, prangio/rangio, prangio/prvd,
            nrendoa/rendoa, nrendoa/nrpa, rcysa/rendoa, nrcysa/rcysa, nrcysa/nrendoa, rcysaap/rcysa, nrcysaap/nrcysa,
            nrcysaap/rcysaap,
            metab/bp, biosyn/metab, cbp/biosyn, cbp/cmp, hetmp/orgcyc, hetmp/cmp, camp/cmp, cnmp/cmp, cnmp/ncmp,
            primp/metab, orgcyc/osmp, prmetab/rmetab, prmetab/prbp, rmmp/rprimp, rmmp/rmetab, hetbs/hetmp, hetbs/cbp,
            arbs/camp, arbs/cbp, cnbs/cnmp, cnbs/cbp, rprimp/rmetab, nbcmp/hetmp, nbcmp/camp, nbcmp/cnmp, nbcmp/orgcyc,
            rncmp/rmetab, rmacbs/rmmp, rmacbs/rbiosyn, prmmp/rmmp, prmmp/prmetab, nrmmp/rmmp, nrmmp/nrmetab,
            nbcbs/nbcmp, nbcbs/hetbs, nbcbs/arbs, nbcbs/cnbs, rnbcmp/rncmp, rnbcmp/rprimp, rnbcmp/rcmp, nacmp/nbcmp,
            nrncmp/rncmp, nrncmp/nrmetab, prmacbs/rmacbs, prmacbs/prmmp, prnbcmp/rnbcmp, prnbcmp/prncmp, dnamp/nacmp,
            prge/rge, nrge/rge, rge/rmmp, rcp/rbp, rdnamp/rnbcmp, dnabs/dnamp, dnabs/nbcbs, pphos/phos, pphos/pmod,
            prcp/rcp, nrcp/rcp, prdnamp/rdnamp, prdnamp/prnbcmp, rpp/rphos, rpp/rpmod, pril10/prcp, pril10/ril10,
            prdnabs/rdnabs, prdnabs/prdnamp, rpka/rka, nrpp/rpp, nrpp/nrphos, prpp/rpp, prpp/prphos, rpsp/rpp,
            rtau/rpka, nrpsp/rpsp, nrpsp/nrpp, nrpmp2/rpmp2, nrpmp2/nrmmp, nrge/nrmmp, prge/prmmp,
            osmp/metab, ncmp/metab, osbs/osmp, osbs/biosyn, macmp/osmp, macmp/primp, onmp/ncmp, onmp/osmp,
            ocbs/orgcyc, ocbs/osbs, macbs/macmp, macbs/osbs, ge/macmp, pmp/macmp, pmp/onmp, macmod/macmp,
            prncmp/rncmp, prncmp/prmetab, rpmp2/rmmp, rpmp2/rprimp, cytprod/ge, proteo/pmp, pmod/pmp, pmod/macmod,
            prpmp2/rpmp2, prpmp2/prmmp, rprot/rpmp2, rpmod/rpmp2, il10/cytprod, il6/cytprod, paam/pmod, nrpmod/rpmod,
            nrpmod/nrpmp2, ril10/rcp, ril6/rcp, nrprot/rprot, nrprot/nrpmp2, prpmod/rpmod, prpmod/prpmp2, psm/paam,
            ptm/paam, psp/psm, psp/pphos, nril6/ril6, nril6/nrcp, ptp/ptm, ptp/pphos, rptp/rpp, prptp/rptp, prptp/prpp}
            \draw[isa] (\a) -- (\b);
        % regulates
        \foreach \a/\b in {rcco/cco, rorgorg/orgorg, rcpo/cpo, rmito/mito, rpmbcpo/pmbcpo, rrcyt/rcyt, rcd/cdeath,
            rpcd/pcd, rapop/apop, rasp/asp, reasp/easp, readdr/eaddr, rnpd/npd, rcmig/cmig, rcmot/cmot, rloco/loco,
            rcellproc/cellproc, rccomm/ccomm, rist/ist, rosicd/cdros, rmapk/mapk, rsamapk/samapk, rhpicd/cdhp,
            rpi3k/pi3k, rhpmpcd/hpmpcd, rst/st, rcrstress/crstress, rcros/cros, rsapk/sapk, rp38/p38, rrstress/rstress,
            rrox/rox, rdef/defr, rinfl/infl, rsig/signaling, rnpr/npr, rbp/bp, rrstim/rstim, rrexstim/rexstim,
            rmyel/myel, rdp/dev, rasm/asm, raom/aom, rmepi/morphepi, rmbs/mbs, rmop/mop, rbsg/bsg, rmod/mod,
            rpmp/phosmp, rnsd/nsdev, rphmp/pccmp, rphos/phos, rvd/vasc, rcmp/cmp, rsysp/sysproc, rnsp/nsp,
            rbiosyn/biosyn, rcbp/cbp, rangio/angio, rdnabs/dnabs, rmetab/metab, rmmp/macmp, rprimp/primp, rncmp/ncmp,
            rmacbs/macbs, rnbcmp/nbcmp, rge/ge, rcp/cytprod, rdnamp/dnamp, rpp/pphos, rpsp/psp, rpmp2/pmp,
            rprot/proteo, rpmod/pmod, ril10/il10, ril6/il6, rptp/ptp}
            \draw[reg] (\a) -- (\b);
        % negatively regulates
        \foreach \a/\b in {nrcco/cco, nrorgorg/orgorg, nrmito/mito, nrrcyt/rcyt, nrcd/cdeath, nrpcd/pcd, nrapop/apop,
            nrasp/asp, nreasp/easp, nreaddr/eaddr, nrcellproc/cellproc, nrccomm/ccomm, nrosicd/cdros, nrhpicd/cdhp,
            nrhpmpcd/hpmpcd, nrst/st, nrrros/rros, nrrox/rox, nrdef/defr, nrinfl/infl, nrsig/signaling, nrbp/bp,
            nrrstim/rstim, nrrexstim/rexstim, nrmop/mop, nrpmp/phosmp, nrphmp/pccmp, nrphos/phos, nrcmp/cmp,
            nrmetab/metab, nrmmp/macmp, nrncmp/ncmp, nrge/ge, nrpmp2/pmp, nrcp/cytprod, nrpp/pphos, nrpsp/psp,
            nrpmod/pmod, nrprot/proteo, nril6/il6}
            \draw[negreg] (\a) -- (\b);
        % positively regulates
        \foreach \a/\b in {prcco/cco, prcpo/cpo, prcmig/cmig, prnpd/npd, prloco/loco, prcellproc/cellproc, prcmot/cmot,
            prccomm/ccomm, prmapk/mapk, prpi3k/pi3k, prst/st, prist/ist, prsig/signaling, prnpr/npr, prbp/bp,
            prrstim/rstim, prmyel/myel, prdp/dev, prmop/mop, prvd/vasc, prpmp/phosmp, prphmp/pccmp, prphos/phos,
            prangio/angio, prcmp/cmp, prbiosyn/biosyn, prnsp/nsp, prcbp/cbp, prmetab/metab, prmmp/macmp,
            prmacbs/macbs, prnbcmp/nbcmp, prdnamp/dnamp, prge/ge, prcp/cytprod, prdnabs/dnabs, prpp/pphos,
            pril10/il10, prncmp/ncmp, prpmp2/pmp, prpmod/pmod, prptp/ptp}
            \draw[posreg] (\a) -- (\b);
        % part_of
        \foreach \a/\b in {exsp/exreg, amc/apop, rcyt/asp, asp/apop, pcdros/crros, cdros/cros, cdhp/crhp, npd/ndev,
            st/ccomm, st/crstim, st/signaling, taxis/rexstim, chemotaxis/rchem, cchemo/crchem, ensh/nsdev, aom/aod,
            cdev/cdiff, neurog/nsdev, ndiff/genn, asm/asd, tissmorph/tissdev, tubemorph/tubedev, asfim/asm,
            glandmorph/glanddev, sgdev/exodev, liver/hepdev, morphepi/epidev, sgmorph/sgdev, bsg/sgmorph,
            sysdev/mod, vasc/circdev, bvd/vasc, bvm/bvd, angio/bvm}
            \draw[partof] (\a) -- (\b);
        \end{pgfonlayer}
    \end{tikzpicture}
\end{document}
